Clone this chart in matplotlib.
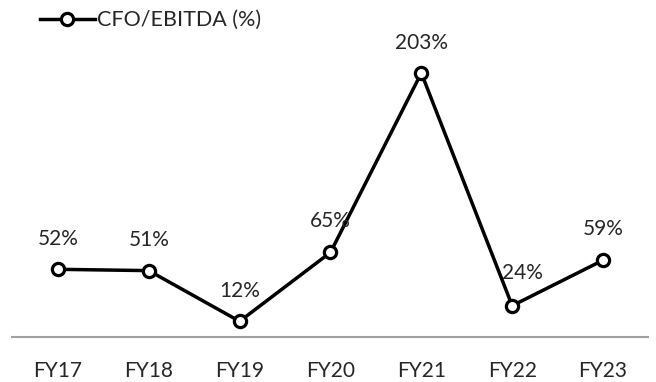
import matplotlib
matplotlib.use('Agg')
import matplotlib.pyplot as plt

plt.rcParams['font.family'] = ['Lato', 'DejaVu Sans']

# data
years = ['FY17', 'FY18', 'FY19', 'FY20', 'FY21', 'FY22', 'FY23']
cfo_ebitda = [52, 51, 12, 65, 203, 24, 59]
series_name = 'CFO/EBITDA (%)'

fig = plt.figure(figsize=(6.56, 3.82), dpi=100)
ax = fig.add_axes([0.019, 0.118, 0.9695, 0.776])

x = list(range(len(years)))
line, = ax.plot(x, cfo_ebitda, color='black', lw=2.5, marker='o', ms=8.8,
                mfc='white', mec='black', mew=2.3, label=series_name, zorder=3,
                solid_joinstyle='round')

# label offsets in points (baseline above the marker); FY22 nudged right
offsets = [(0, 17.6), (0, 17.6), (0, 17.6), (0, 18.5), (0, 17.6), (7.5, 19.4), (0, 18)]
for xi, v, off in zip(x, cfo_ebitda, offsets):
    ax.annotate(f'{v}%', (xi, v), xytext=off, textcoords='offset points',
                ha='center', va='baseline', fontsize=15, color='#262626')

ax.set_xlim(-0.5, len(years) - 0.5)
ax.set_ylim(0, 228)
ax.set_xticks(x)
ax.set_xticklabels(years, fontsize=15, color='#262626')
ax.tick_params(axis='x', length=0, pad=17)
ax.set_yticks([])
for s in ['top', 'right', 'left']:
    ax.spines[s].set_visible(False)
ax.spines['bottom'].set_color('#a0a0a0')
ax.spines['bottom'].set_linewidth(1.5)

leg = fig.legend(handles=[line], loc='center left', bbox_to_anchor=(0.061, 0.947),
                 frameon=False, fontsize=15.5, handlelength=2.55, handletextpad=0.12,
                 borderaxespad=0, borderpad=0)
for t in leg.get_texts():
    t.set_color('#262626')

fig.savefig('out.png', dpi=100)
